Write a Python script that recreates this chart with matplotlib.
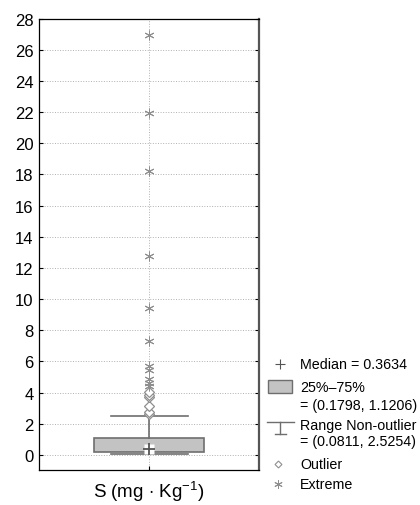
import matplotlib.pyplot as plt
from matplotlib.patches import Rectangle

plt.rcParams['font.family'] = ['Liberation Sans', 'DejaVu Sans']
plt.rcParams['mathtext.fontset'] = 'custom'
plt.rcParams['mathtext.rm'] = 'Liberation Sans'

# summary values
category = r'S (mg $\cdot$ Kg$^{\mathregular{-1}}$)'
median = 0.3634
q1, q3 = 0.1798, 1.1206
whis_lo, whis_hi = 0.0811, 2.5254
outliers = [2.65, 2.78, 3.12, 3.7, 3.85, 4.05]
extremes = [4.45, 4.62, 4.85, 5.45, 5.7, 7.3, 9.45, 12.75, 18.25, 21.95, 26.95]
yticks = list(range(0, 29, 2))

box_col = '#c3c3c3'
line_col = '#6e6e6e'
mark_col = '#8f8f8f'

fig = plt.figure(figsize=(4.2, 5.06), dpi=100)
ax = fig.add_axes([39 / 420, 35 / 506, 220 / 420, 451.5 / 506])

stats = [dict(med=median, q1=q1, q3=q3, whislo=whis_lo, whishi=whis_hi, fliers=[])]
ax.bxp(stats, positions=[0], widths=1.0, showfliers=False, patch_artist=True,
       boxprops=dict(facecolor=box_col, edgecolor=line_col, lw=1.2),
       whiskerprops=dict(color=line_col, lw=1.2),
       capprops=dict(color=line_col, lw=1.2),
       medianprops=dict(lw=0), capwidths=0.7, zorder=3)

ax.plot([0] * len(outliers), outliers, ls='none', marker='D', ms=5,
        mfc='white', mec=mark_col, mew=0.9, zorder=4)
ax.plot([0] * len(extremes), extremes, ls='none', marker=(6, 2, 0), ms=7,
        mec=mark_col, mew=0.7, zorder=4)
ax.plot([0], [median], ls='none', marker='s', ms=7, mfc='white', mec='none', zorder=5)
ax.plot([0], [median], ls='none', marker='+', ms=8, mec='#555555', mew=1.3, zorder=6)

ax.set_xlim(-1.0, 1.0)
ax.set_ylim(-0.96, 28)
ax.set_yticks(yticks)
ax.set_xticks([0])
ax.set_xticklabels([category], fontsize=13.5)
ax.tick_params(axis='y', direction='in', length=3, labelsize=12, right=True, pad=4)
ax.tick_params(axis='x', direction='in', length=3, pad=6)
ax.grid(True, ls=':', color='#b0b0b0', lw=0.7)
ax.set_axisbelow(True)
for s in ['left', 'top', 'bottom']:
    ax.spines[s].set_linewidth(0.9)
ax.spines['right'].set_linewidth(1.6)
ax.spines['right'].set_color('#555555')

# legend drawn in pixel coordinates
lg = fig.add_axes([260 / 420, 0, 160 / 420, 1])
lg.set_xlim(260, 420)
lg.set_ylim(506, 0)
lg.axis('off')
fs = 10.3
tx = 300
lg.plot([280], [365], marker='+', ms=7, mec='#555555', mew=0.8)
lg.text(tx, 365, 'Median = 0.3634', fontsize=fs, va='center')
lg.add_patch(Rectangle((268, 381), 24, 13, facecolor=box_col, edgecolor=line_col, lw=1))
lg.text(tx, 388, '25%\u201375%', fontsize=fs, va='center')
lg.text(tx, 406, '= (0.1798, 1.1206)', fontsize=fs, va='center')
lg.plot([267, 294], [423, 423], color=line_col, lw=1)
lg.plot([280, 280], [423, 435], color=line_col, lw=1)
lg.plot([275, 286], [435, 435], color=line_col, lw=1)
lg.text(tx, 426, 'Range Non-outlier', fontsize=fs, va='center')
lg.text(tx, 442, '= (0.0811, 2.5254)', fontsize=fs, va='center')
lg.plot([278], [465], marker='D', ms=3.5, mfc='white', mec=mark_col, mew=0.8)
lg.text(tx, 465, 'Outlier', fontsize=fs, va='center')
lg.plot([278], [485], marker=(6, 2, 0), ms=6, mec=mark_col, mew=0.7)
lg.text(tx, 485, 'Extreme', fontsize=fs, va='center')

fig.savefig('out.png', dpi=100)
